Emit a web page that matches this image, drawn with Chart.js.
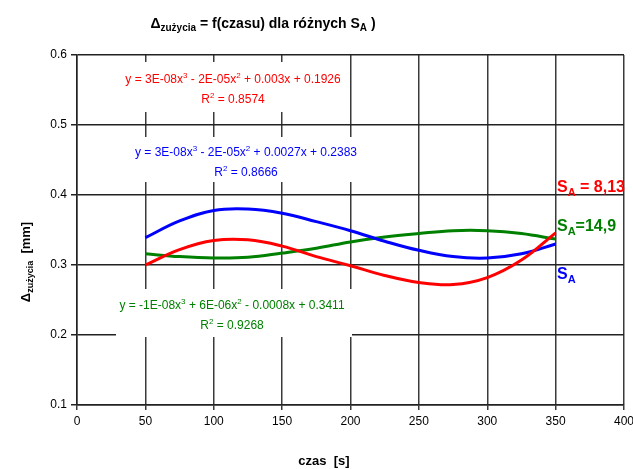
<!DOCTYPE html>
<html>
<head>
<meta charset="utf-8">
<script src="https://cdn.jsdelivr.net/npm/chart.js@4"></script>
<style>
  body { margin: 0; background: #fff; }
  canvas { display: block; }
</style>
</head>
<body>
<canvas id="wearChart" width="633" height="469"></canvas>
<script>
// time points (s) and wear values (mm)
const times = [50, 75, 100, 125, 150, 175, 200, 225, 250, 275, 300, 325, 350];
const wearRed = [0.300, 0.322, 0.335, 0.336, 0.327, 0.312, 0.299, 0.285, 0.275, 0.272, 0.282, 0.307, 0.346];
const wearBlue = [0.339, 0.363, 0.378, 0.380, 0.374, 0.362, 0.349, 0.334, 0.321, 0.312, 0.310, 0.316, 0.330];
const wearGreen = [0.316, 0.312, 0.310, 0.311, 0.317, 0.324, 0.333, 0.340, 0.345, 0.349, 0.349, 0.345, 0.337];

const FONT = "'Liberation Sans', Arial, sans-serif";

// draw text made of parts; part.sub / part.sup shrink and shift it
function drawRich(ctx, parts, x, y, size, color, bold, align) {
  const weight = bold ? "bold " : "";
  let total = 0;
  parts.forEach((p) => {
    const s = p.sub || p.sup ? Math.round(size * 0.7) : size;
    ctx.font = weight + s + "px " + FONT;
    p.w = ctx.measureText(p.t).width;
    p.s = s;
    total += p.w;
  });
  let cx = x;
  if (align === "center") cx = x - total / 2;
  ctx.fillStyle = color;
  ctx.textAlign = "left";
  ctx.textBaseline = "alphabetic";
  parts.forEach((p) => {
    ctx.font = weight + p.s + "px " + FONT;
    let dy = 0;
    if (p.sub) dy = size * 0.22;
    if (p.sup) dy = -size * 0.4;
    ctx.fillText(p.t, cx, y + dy);
    cx += p.w;
  });
}

const labelsPlugin = {
  id: "labels",
  beforeDatasetsDraw(chart) {
    // white boxes behind the trend line equations
    const ctx = chart.ctx;
    ctx.save();
    ctx.fillStyle = "#fff";
    ctx.fillRect(120, 62, 226, 50);
    ctx.fillRect(128, 137, 236, 45);
    ctx.fillRect(116, 289, 236, 48);
    ctx.restore();
  },
  afterDraw(chart) {
    const ctx = chart.ctx;
    ctx.save();

    // title
    drawRich(ctx, [
      { t: "Δ" }, { t: "zużycia", sub: true },
      { t: " = f(czasu) dla różnych S" }, { t: "A", sub: true }, { t: " )" }
    ], 263, 28, 14, "#000", true, "center");

    // axis titles
    drawRich(ctx, [{ t: "czas  [s]" }], 324, 465, 13, "#000", true, "center");
    ctx.save();
    ctx.translate(30, 262);
    ctx.rotate(-Math.PI / 2);
    drawRich(ctx, [{ t: "Δ" }, { t: "zużycia", sub: true }, { t: "  [mm]" }], 0, 0, 13, "#000", true, "center");
    ctx.restore();

    // equations
    drawRich(ctx, [
      { t: "y = 3E-08x" }, { t: "3", sup: true }, { t: " - 2E-05x" }, { t: "2", sup: true },
      { t: " + 0.003x + 0.1926" }
    ], 233, 83, 12, "#ff0000", false, "center");
    drawRich(ctx, [{ t: "R" }, { t: "2", sup: true }, { t: " = 0.8574" }], 233, 103, 12, "#ff0000", false, "center");

    drawRich(ctx, [
      { t: "y = 3E-08x" }, { t: "3", sup: true }, { t: " - 2E-05x" }, { t: "2", sup: true },
      { t: " + 0.0027x + 0.2383" }
    ], 246, 156, 12, "#0000ff", false, "center");
    drawRich(ctx, [{ t: "R" }, { t: "2", sup: true }, { t: " = 0.8666" }], 246, 176, 12, "#0000ff", false, "center");

    drawRich(ctx, [
      { t: "y = -1E-08x" }, { t: "3", sup: true }, { t: " + 6E-06x" }, { t: "2", sup: true },
      { t: " - 0.0008x + 0.3411" }
    ], 232, 309, 12, "#008000", false, "center");
    drawRich(ctx, [{ t: "R" }, { t: "2", sup: true }, { t: " = 0.9268" }], 232, 329, 12, "#008000", false, "center");

    // series names on the right
    drawRich(ctx, [{ t: "S" }, { t: "A", sub: true }, { t: " = 8,13" }], 557, 192, 16, "#ff0000", true);
    drawRich(ctx, [{ t: "S" }, { t: "A", sub: true }, { t: "=14,9" }], 557, 231, 16, "#008000", true);
    drawRich(ctx, [{ t: "S" }, { t: "A", sub: true }], 557, 279, 16, "#0000ff", true);

    ctx.restore();
  }
};

function toPoints(values) {
  return times.map((t, i) => ({ x: t, y: values[i] }));
}

const ctx = document.getElementById("wearChart").getContext("2d");
new Chart(ctx, {
  type: "line",
  data: {
    datasets: [
      { label: "SA = 8,13", data: toPoints(wearRed), borderColor: "#ff0000" },
      { label: "SA", data: toPoints(wearBlue), borderColor: "#0000ff" },
      { label: "SA=14,9", data: toPoints(wearGreen), borderColor: "#008000" }
    ]
  },
  options: {
    responsive: false,
    animation: false,
    devicePixelRatio: 1,
    layout: { padding: { top: 55, right: 9, bottom: 0, left: 0 } },
    elements: {
      line: { borderWidth: 3, tension: 0.4, fill: false },
      point: { radius: 0 }
    },
    plugins: {
      legend: { display: false },
      title: { display: false },
      tooltip: { enabled: false }
    },
    scales: {
      x: {
        type: "linear",
        min: 0,
        max: 400,
        ticks: {
          stepSize: 50,
          color: "#000",
          padding: 4,
          font: { family: FONT, size: 12 }
        },
        grid: { color: "#3a3a3a", lineWidth: 1.5, tickLength: 5, tickColor: "#3a3a3a" },
        border: { color: "#222", width: 1.5 },
        afterFit: (scale) => {
          scale.height = 64;
          scale.paddingRight = 0;
          scale.paddingLeft = 0;
        }
      },
      y: {
        min: 0.1,
        max: 0.6,
        ticks: {
          stepSize: 0.1,
          color: "#000",
          padding: 4,
          font: { family: FONT, size: 12 },
          callback: (v) => v.toFixed(1)
        },
        grid: { color: "#222", lineWidth: 1.5, tickLength: 6 },
        border: { color: "#222", width: 1.5 },
        afterFit: (scale) => { scale.width = 77; }
      }
    }
  },
  plugins: [labelsPlugin]
});
</script>
</body>
</html>
